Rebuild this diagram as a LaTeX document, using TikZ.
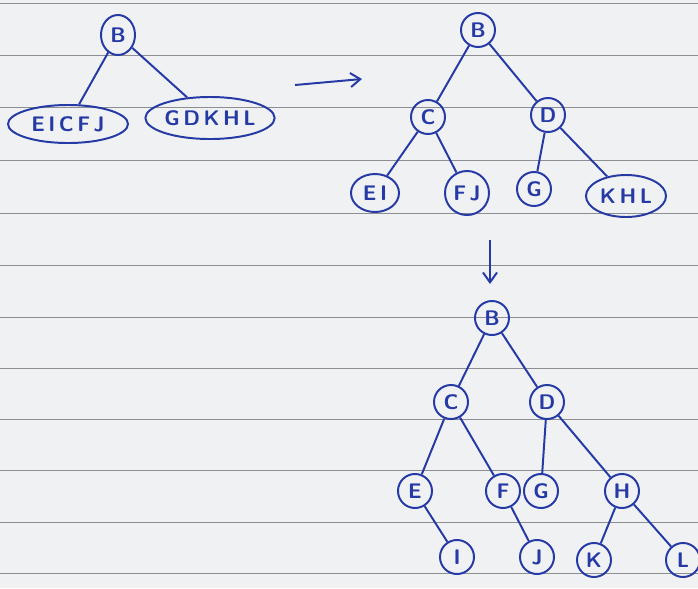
\documentclass[tikz,border=0pt]{standalone}
\usetikzlibrary{shapes.geometric,arrows.meta}
\definecolor{ink}{RGB}{38,58,165}
\definecolor{paper}{RGB}{240,241,243}
\definecolor{ruling}{RGB}{140,142,148}
\begin{document}
\begin{tikzpicture}[>={Straight Barb[length=7pt,width=10pt]}, x=0.025cm, y=-0.025cm,
    every node/.style={font=\sffamily\bfseries\fontsize{15}{17}\selectfont, text=ink},
    vtx/.style={circle, draw=ink, line width=1.4pt, inner sep=0pt, minimum size=0.85cm},
    grp/.style={ellipse, draw=ink, line width=1.4pt, inner sep=0pt, minimum height=0.95cm},
    edge/.style={draw=ink, line width=1.4pt}]
    \fill[paper] (0,0) rectangle (698,588);
    \useasboundingbox (0,0) rectangle (698,588);
    \foreach \y in {3,55,107,160,213,265,317,368,419,470,522,573}
        \draw[ruling, line width=0.6pt] (0,\y) -- (698,\y);

    % first split
    \node[vtx, ellipse, minimum width=0.85cm, minimum height=1cm] (b1) at (118,35) {B};
    \node[grp, minimum width=3.0cm] (l1) at (68,124) {E\,I\,C\,F\,J};
    \node[grp, minimum width=3.0cm, minimum height=1.05cm] (r1) at (210,118) {G\,D\,K\,H\,L};
    \draw[edge] (b1) -- (l1);
    \draw[edge] (b1) -- (r1);

    \coordinate (a1) at (295,85);
    \coordinate (a2) at (362,79);
    \draw[edge, ->] (a1) -- (a2);

    % second split
    \node[vtx] (b2) at (478,30) {B};
    \node[vtx] (c2) at (428,117) {C};
    \node[vtx] (d2) at (548,115) {D};
    \node[grp, minimum width=1.2cm] (ei2) at (375,193) {E\,I};
    \node[vtx, minimum size=1.1cm] (fj2) at (467,193) {F\,J};
    \node[vtx] (g2) at (534,189) {G};
    \node[grp, minimum width=2.0cm, minimum height=1.05cm] (khl2) at (626,196) {K\,H\,L};
    \draw[edge] (b2) -- (c2);
    \draw[edge] (b2) -- (d2);
    \draw[edge] (c2) -- (ei2);
    \draw[edge] (c2) -- (fj2);
    \draw[edge] (d2) -- (g2);
    \draw[edge] (d2) -- (khl2);

    \coordinate (a3) at (490,240);
    \coordinate (a4) at (490,284);
    \draw[edge, ->] (a3) -- (a4);

    % final tree
    \node[vtx] (b3) at (492,318) {B};
    \node[vtx] (c3) at (451,402) {C};
    \node[vtx] (d3) at (547,402) {D};
    \node[vtx] (e3) at (415,491) {E};
    \node[vtx] (f3) at (503,491) {F};
    \node[vtx] (g3) at (541,491) {G};
    \node[vtx] (h3) at (622,491) {H};
    \node[vtx] (i3) at (457,557) {I};
    \node[vtx] (j3) at (537,557) {J};
    \node[vtx] (k3) at (594,560) {K};
    \node[vtx] (l3) at (683,560) {L};
    \draw[edge] (b3) -- (c3);
    \draw[edge] (b3) -- (d3);
    \draw[edge] (c3) -- (e3);
    \draw[edge] (c3) -- (f3);
    \draw[edge] (d3) -- (g3);
    \draw[edge] (d3) -- (h3);
    \draw[edge] (e3) -- (i3);
    \draw[edge] (f3) -- (j3);
    \draw[edge] (h3) -- (k3);
    \draw[edge] (h3) -- (l3);
\end{tikzpicture}
\end{document}
